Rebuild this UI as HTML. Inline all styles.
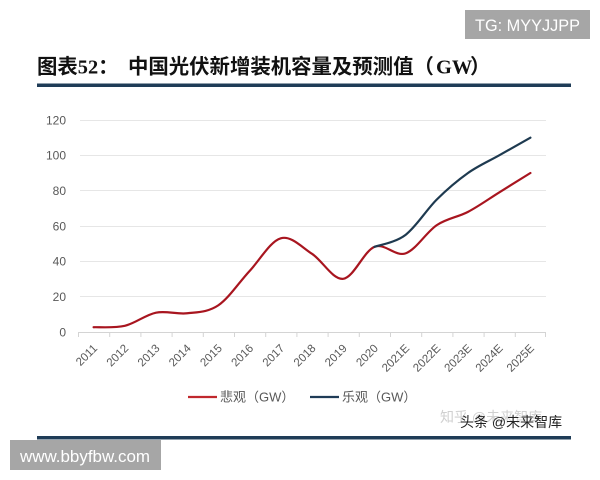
<!DOCTYPE html>
<html><head><meta charset="utf-8"><style>
html,body{margin:0;padding:0;background:#fff;}
svg{display:block;}
</style></head><body>
<svg width="600" height="480" viewBox="0 0 600 480" xmlns="http://www.w3.org/2000/svg">
<rect width="600" height="480" fill="#ffffff"/>
<!-- TG watermark -->
<rect x="465" y="10" width="125" height="29" fill="#a6a6a6"/>
<text x="475" y="31" font-family="Liberation Sans, sans-serif" font-size="17" fill="#ffffff" textLength="105" lengthAdjust="spacingAndGlyphs">TG: MYYJJPP</text>
<!-- Title -->
<text x="37" y="73.5" font-family="'Liberation Serif','Noto Sans CJK SC',serif" font-weight="bold" font-size="20.4" fill="#111">图表52：</text>
<text x="128" y="73.5" font-family="'Liberation Serif','Noto Sans CJK SC',serif" font-weight="bold" font-size="20.4" fill="#111">中国光伏新增装机容量及预测值（</text>
<text x="436" y="73.5" font-family="'Liberation Serif',serif" font-weight="bold" font-size="20.4" fill="#111">GW</text>
<text x="470" y="73.5" font-family="'Liberation Serif','Noto Sans CJK SC',serif" font-weight="bold" font-size="20.4" fill="#111">）</text>
<rect x="37" y="83.5" width="534" height="3.5" fill="#1f3c57"/>
<!-- gridlines -->
<g stroke="#e6e6e6" stroke-width="1">
<line x1="80" y1="120.5" x2="546" y2="120.5"/>
<line x1="80" y1="155.5" x2="546" y2="155.5"/>
<line x1="80" y1="190.5" x2="546" y2="190.5"/>
<line x1="80" y1="226.5" x2="546" y2="226.5"/>
<line x1="80" y1="261.5" x2="546" y2="261.5"/>
<line x1="80" y1="296.5" x2="546" y2="296.5"/>
</g>
<line x1="78" y1="332.5" x2="546" y2="332.5" stroke="#d4d4d4" stroke-width="1"/>
<g stroke="#d4d4d4" stroke-width="1">
<line x1="78.5" y1="332" x2="78.5" y2="337"/>
<line x1="109.7" y1="332" x2="109.7" y2="337"/>
<line x1="140.9" y1="332" x2="140.9" y2="337"/>
<line x1="172.1" y1="332" x2="172.1" y2="337"/>
<line x1="203.3" y1="332" x2="203.3" y2="337"/>
<line x1="234.5" y1="332" x2="234.5" y2="337"/>
<line x1="265.7" y1="332" x2="265.7" y2="337"/>
<line x1="296.9" y1="332" x2="296.9" y2="337"/>
<line x1="328.1" y1="332" x2="328.1" y2="337"/>
<line x1="359.3" y1="332" x2="359.3" y2="337"/>
<line x1="390.5" y1="332" x2="390.5" y2="337"/>
<line x1="421.7" y1="332" x2="421.7" y2="337"/>
<line x1="452.9" y1="332" x2="452.9" y2="337"/>
<line x1="484.1" y1="332" x2="484.1" y2="337"/>
<line x1="515.3" y1="332" x2="515.3" y2="337"/>
<line x1="545.5" y1="332" x2="545.5" y2="337"/>
</g>
<!-- y labels -->
<g font-family="Liberation Sans, sans-serif" font-size="12" fill="#595959" text-anchor="end">
<text x="66" y="124.5">120</text>
<text x="66" y="159.5">100</text>
<text x="66" y="195">80</text>
<text x="66" y="230.5">60</text>
<text x="66" y="265.5">40</text>
<text x="66" y="301">20</text>
<text x="66" y="336.5">0</text>
</g>
<!-- x labels -->
<g font-family="Liberation Sans, sans-serif" font-size="11.5" fill="#595959" text-anchor="end">
<text transform="translate(98,349) rotate(-45)">2011</text>
<text transform="translate(129.2,349) rotate(-45)">2012</text>
<text transform="translate(160.4,349) rotate(-45)">2013</text>
<text transform="translate(191.6,349) rotate(-45)">2014</text>
<text transform="translate(222.8,349) rotate(-45)">2015</text>
<text transform="translate(254,349) rotate(-45)">2016</text>
<text transform="translate(285.2,349) rotate(-45)">2017</text>
<text transform="translate(316.4,349) rotate(-45)">2018</text>
<text transform="translate(347.6,349) rotate(-45)">2019</text>
<text transform="translate(378.8,349) rotate(-45)">2020</text>
<text transform="translate(410,349) rotate(-45)">2021E</text>
<text transform="translate(441.2,349) rotate(-45)">2022E</text>
<text transform="translate(472.4,349) rotate(-45)">2023E</text>
<text transform="translate(503.6,349) rotate(-45)">2024E</text>
<text transform="translate(534.8,349) rotate(-45)">2025E</text>
</g>
<!-- red series -->
<path fill="none" stroke="#a8151f" stroke-width="2.2" stroke-linejoin="round" stroke-linecap="round"
d="M93.6,327.23 C98.8,327 114.4,328.25 124.8,325.82 C135.2,323.39 145.6,314.74 156,312.65 C166.4,310.56 176.8,314.5 187.2,313.27 C197.6,312.04 208,312.32 218.4,305.27 C228.8,298.22 239.2,282.15 249.6,270.98 C260,259.81 270.4,241.12 280.8,238.26 C291.2,235.4 301.6,247.05 312,253.81 C322.4,260.57 332.8,279.97 343.2,278.81 C353.6,277.65 364,251.09 374.4,246.85 C384.8,242.61 395.2,257 405.6,253.38 C416,249.76 426.4,232.03 436.8,225.11 C447.2,218.19 457.6,217.32 468,211.87 C478.4,206.42 488.8,198.91 499.2,192.43 C509.6,185.95 525.2,176.24 530.4,173"/>
<!-- blue series -->
<path fill="none" stroke="#1e3a50" stroke-width="2.2" stroke-linejoin="round" stroke-linecap="round"
d="M374.4,246.85 C379.6,244.85 395.2,242.72 405.6,234.83 C416,226.94 426.4,209.81 436.8,199.5 C447.2,189.19 457.6,180.36 468,173 C478.4,165.64 488.8,161.22 499.2,155.33 C509.6,149.44 525.2,140.61 530.4,137.67"/>
<!-- legend -->
<line x1="188" y1="397" x2="217" y2="397" stroke="#c0282d" stroke-width="2.2"/>
<text x="220" y="401.5" font-family="'Liberation Sans','Noto Sans CJK SC',sans-serif" font-size="13" fill="#595959">悲观（GW）</text>
<line x1="310" y1="397" x2="339" y2="397" stroke="#1f3c57" stroke-width="2.2"/>
<text x="342" y="401.5" font-family="'Liberation Sans','Noto Sans CJK SC',sans-serif" font-size="13" fill="#595959">乐观（GW）</text>
<!-- watermarks -->
<text x="440" y="422" font-family="'Liberation Sans','Noto Sans CJK SC',sans-serif" font-size="14" fill="#d0d0d0">知乎 @未来智库</text>
<text x="460" y="427" font-family="'Liberation Sans','Noto Sans CJK SC',sans-serif" font-size="14" fill="#222">头条 @未来智库</text>
<rect x="37" y="436" width="534" height="3.5" fill="#1f3c57"/>
<rect x="10" y="440" width="151" height="30" fill="#a6a6a6"/>
<text x="20" y="462" font-family="Liberation Sans, sans-serif" font-size="17" fill="#ffffff" textLength="130" lengthAdjust="spacingAndGlyphs">www.bbyfbw.com</text>
</svg>
</body></html>
